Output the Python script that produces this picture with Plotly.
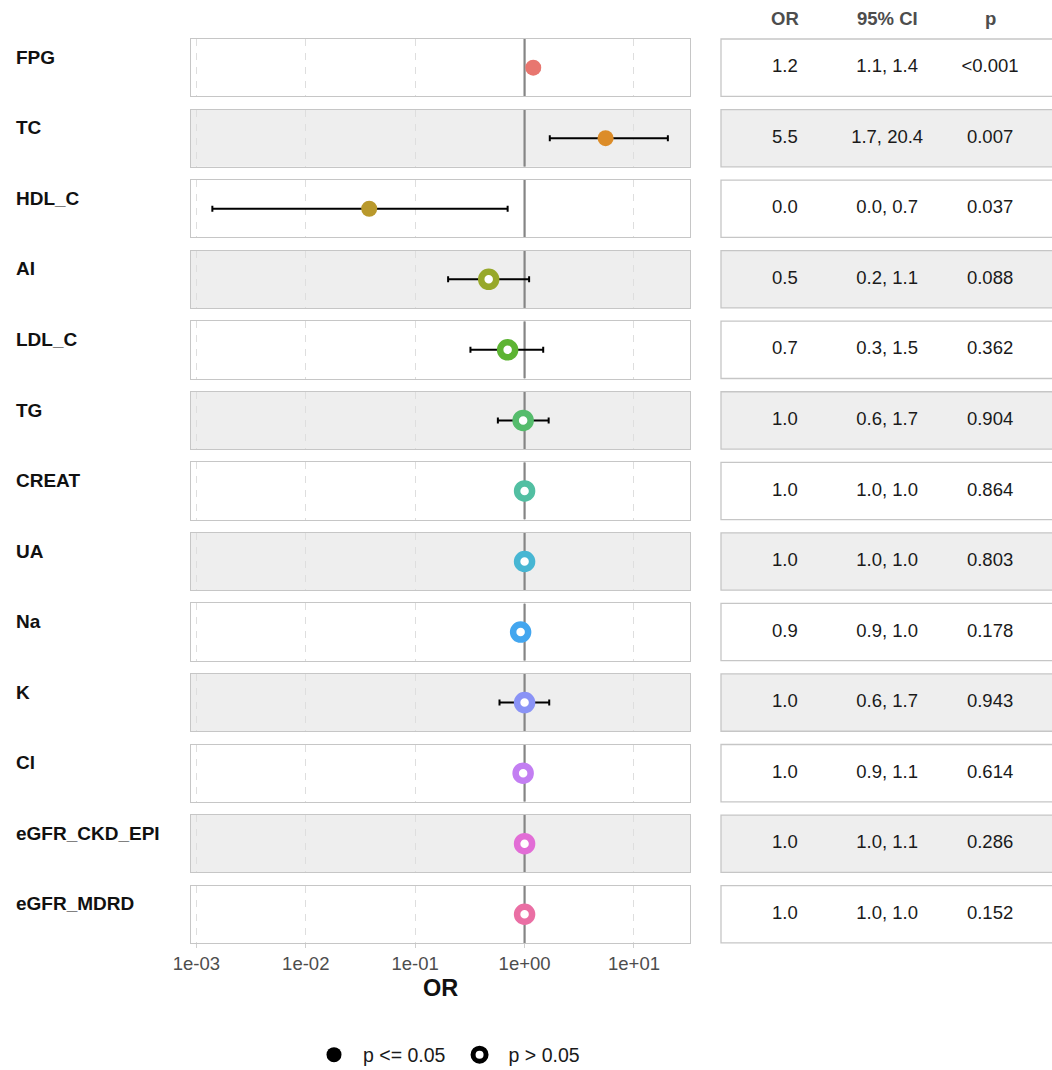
import plotly.graph_objects as go
from plotly.subplots import make_subplots

# ---------------- data ----------------
VARIABLES = ["FPG", "TC", "HDL_C", "AI", "LDL_C", "TG", "CREAT", "UA", "Na", "K",
             "Cl", "eGFR_CKD_EPI", "eGFR_MDRD"]
OR = [1.2, 5.5, 0.038, 0.47, 0.70, 0.97, 1.00, 1.00, 0.92, 1.00, 0.97, 1.00, 1.00]
CI_LOW = [1.1, 1.7, 0.0014, 0.20, 0.32, 0.57, 1.0, 1.0, 0.9, 0.59, 0.9, 1.0, 1.0]
CI_HIGH = [1.36, 20.4, 0.70, 1.1, 1.48, 1.66, 1.0, 1.0, 1.0, 1.68, 1.1, 1.1, 1.0]
P_TEXT = ["<0.001", "0.007", "0.037", "0.088", "0.362", "0.904", "0.864", "0.803",
          "0.178", "0.943", "0.614", "0.286", "0.152"]
TABLE_HEADERS = ["OR", "95% CI", "p"]
TICK_VALUES = [1e-3, 1e-2, 1e-1, 1e0, 1e1]
TICK_LABELS = ["1e-03", "1e-02", "1e-01", "1e+00", "1e+01"]
LEGEND_LABELS = ["p <= 0.05", "p > 0.05"]

# ---------------- style ----------------
COLORS = ["#E8766F", "#DC8C28", "#B9992C", "#97A82A", "#5DB433", "#55BC6C", "#52BFA2",
          "#47B6D3", "#43A6EF", "#8A93F6", "#C37EF2", "#E26DD6", "#EA6FA4"]
W, H = 1052, 1070
FONT = "Liberation Sans"
PANEL_TOP, PITCH, PANEL_H = 39, 70.55, 57.3
LEFT_X0, LEFT_X1 = 191, 690
TAB_X0 = 721
COL_X = [0.193, 0.502, 0.813]
BORDER = "#C6C6C6"
GRAY_BG = "#EEEEEE"

n = len(VARIABLES)
fig = make_subplots(rows=n, cols=2)

def axname(k, letter):
    return f"{letter}{'' if k == 1 else k}"

for i in range(n):
    r = i + 1
    kl = 2 * i + 1
    kt = 2 * i + 2
    top = PANEL_TOP + i * PITCH
    y0 = 1 - (top + PANEL_H) / H
    y1 = 1 - top / H
    last = (i == n - 1)
    fig.update_xaxes(row=r, col=1, domain=[LEFT_X0 / W, LEFT_X1 / W], type="log",
                     range=[-3.049, 1.512], tickvals=TICK_VALUES, ticktext=TICK_LABELS,
                     showgrid=True, griddash="7px,7px", gridcolor="#DEDEDE", gridwidth=1,
                     showline=True, mirror=True, linecolor=BORDER, linewidth=1.3,
                     zeroline=False, showticklabels=last, automargin=False,
                     ticks="outside" if last else "", ticklen=4, tickcolor="#CFCFCF",
                     tickfont=dict(family=FONT, size=18.5, color="#4D4D4D"))
    fig.update_yaxes(row=r, col=1, domain=[y0, y1], range=[-0.5, 0.5], showgrid=False,
                     zeroline=False, showticklabels=False, ticks="", showline=True,
                     mirror=True, linecolor=BORDER, linewidth=1.3, automargin=False)
    fig.update_xaxes(row=r, col=2, domain=[TAB_X0 / W, 1.0], range=[0, 1], visible=False,
                     automargin=False)
    fig.update_yaxes(row=r, col=2, domain=[y0, y1], range=[-0.5, 0.5], visible=False,
                     automargin=False)

    fill = GRAY_BG if i % 2 == 1 else "white"
    fig.add_shape(type="rect", xref=f"{axname(kl, 'x')} domain", yref=f"{axname(kl, 'y')} domain",
                  x0=0, x1=1, y0=0, y1=1, fillcolor=fill, line=dict(width=0), layer="below")
    fig.add_shape(type="rect", xref="paper", yref=f"{axname(kt, 'y')} domain",
                  x0=TAB_X0 / W, x1=1.03, y0=0, y1=1, fillcolor=fill,
                  line=dict(width=1.3, color=BORDER), layer="below")

    fig.add_trace(go.Scatter(x=[1, 1], y=[-0.5, 0.5], mode="lines",
                             line=dict(color="#858585", width=2.2),
                             hoverinfo="skip", showlegend=False), row=r, col=1)

    sig = float(P_TEXT[i].lstrip("<")) <= 0.05
    if sig:
        marker = dict(symbol="circle", size=16, color=COLORS[i], line=dict(width=0))
    else:
        marker = dict(symbol="circle", size=15, color="white",
                      line=dict(width=6.5, color=COLORS[i]))
    fig.add_trace(go.Scatter(
        x=[OR[i]], y=[0], mode="markers", marker=marker,
        error_x=dict(type="data", symmetric=False,
                     array=[CI_HIGH[i] - OR[i]], arrayminus=[OR[i] - CI_LOW[i]],
                     color="black", thickness=2, width=3),
        showlegend=False, hovertemplate=f"{VARIABLES[i]}: %{{x}}<extra></extra>"),
        row=r, col=1)

    cells = [f"{OR[i]:.1f}", f"{CI_LOW[i]:.1f}, {CI_HIGH[i]:.1f}", P_TEXT[i]]
    fig.add_trace(go.Scatter(x=COL_X, y=[0, 0, 0], mode="text", text=cells,
                             textposition="middle center",
                             textfont=dict(family=FONT, size=18.5, color="#1A1A1A"),
                             hoverinfo="skip", showlegend=False), row=r, col=2)

    fig.add_annotation(text=f"<b>{VARIABLES[i]}</b>", xref="paper", x=14 / W, xanchor="left",
                       yref=f"{axname(kl, 'y')} domain", y=0.68, yanchor="middle",
                       showarrow=False, font=dict(family=FONT, size=19, color="#111111"))

for cx, hd in zip(COL_X, TABLE_HEADERS):
    fig.add_annotation(text=f"<b>{hd}</b>", xref="x2", x=cx, xanchor="center",
                       yref="paper", y=1 - 19 / H, yanchor="middle", showarrow=False,
                       font=dict(family=FONT, size=18.5, color="#4D4D4D"))

fig.add_annotation(text="<b>OR</b>", xref=f"{axname(2 * n - 1, 'x')} domain", x=0.5,
                   xanchor="center", yref="paper", y=1 - 988 / H, yanchor="middle",
                   showarrow=False, font=dict(family=FONT, size=23.5, color="#111111"))

fig.add_trace(go.Scatter(x=[None], y=[None], mode="markers", name=LEGEND_LABELS[0],
                         marker=dict(symbol="circle", size=15, color="black")), row=1, col=1)
fig.add_trace(go.Scatter(x=[None], y=[None], mode="markers", name=LEGEND_LABELS[1],
                         marker=dict(symbol="circle", size=13, color="white",
                                     line=dict(width=5, color="black"))), row=1, col=1)

fig.update_layout(
    template="none",
    width=W, height=H, margin=dict(l=0, r=0, t=0, b=0, pad=0, autoexpand=False),
    paper_bgcolor="white", plot_bgcolor="rgba(0,0,0,0)",
    font=dict(family=FONT, size=18.5, color="#1A1A1A"),
    showlegend=True,
    legend=dict(orientation="h", x=445 / W, xanchor="center", y=1 - 1055 / H,
                yanchor="middle", font=dict(family=FONT, size=19.5, color="#1A1A1A"),
                bgcolor="rgba(0,0,0,0)", itemsizing="trace", itemwidth=48),
)

fig.write_html("out.html")
